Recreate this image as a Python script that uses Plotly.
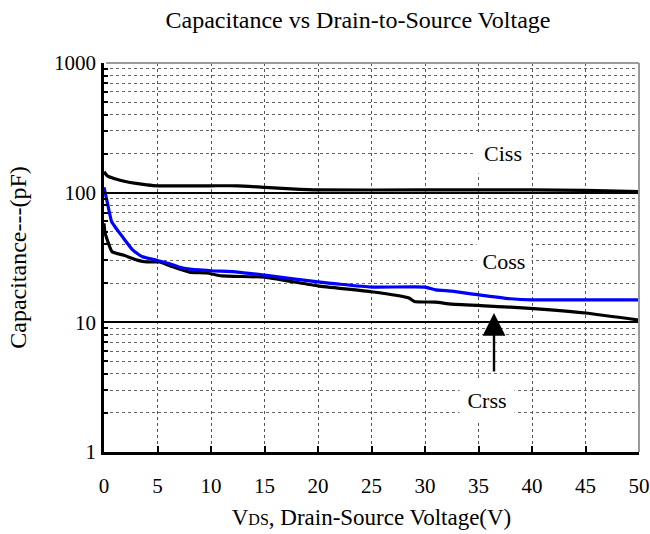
import math
import plotly.graph_objects as go

# ---- data ----
ciss_v = [0, 0.3, 1, 2, 3, 4, 5, 10, 12.5, 15, 17.5, 20, 30, 40, 45, 50]
ciss_c = [145, 135, 128, 122, 118, 115, 113, 113, 113, 110, 107, 105, 105, 105, 104, 102]

coss_v = [0, 0.3, 0.7, 1, 1.7, 2.7, 3.6, 5, 6, 7, 8, 10, 12.5, 15, 20, 22, 25, 30, 31, 32.5, 35, 38, 40, 50]
coss_c = [110, 85, 60, 55, 46, 36, 32, 30, 28.5, 26.7, 25.7, 25, 24.4, 23.1, 20.5, 19.7, 18.7, 18.7, 17.8, 17.4, 16.3, 15.2, 14.9, 14.9]

crss_v = [0, 0.1, 0.75, 1.8, 3.1, 4, 5.2, 6.2, 8, 9.6, 11, 15, 20, 25, 28.5, 29, 31, 32.5, 38, 45, 50]
crss_c = [58, 49, 35, 33, 30.2, 29.2, 29.2, 27.2, 24.4, 24, 22.8, 22.3, 19.1, 17.2, 15.4, 14.5, 14.3, 13.8, 13.1, 11.8, 10.4]

x_ticks = [0, 5, 10, 15, 20, 25, 30, 35, 40, 45, 50]
y_ticks = [1, 10, 100, 1000]
y_tick_text = ["1", "10", "100", "1000"]

labels = ["Ciss", "Coss", "Crss"]
label_v = [37.3, 37.4, 35.8]
label_c = [202, 29.7, 2.52]
arrow_v = 36.45
arrow_c = 11.8

FONT = "Liberation Serif"

fig = go.Figure()
line_style = dict(width=3.2, shape="spline", smoothing=0.4)
fig.add_trace(go.Scatter(x=ciss_v, y=ciss_c, mode="lines", line=dict(color="black", **line_style), name="Ciss"))
fig.add_trace(go.Scatter(x=crss_v, y=crss_c, mode="lines", line=dict(color="black", **line_style), name="Crss"))
fig.add_trace(go.Scatter(x=coss_v, y=coss_c, mode="lines", line=dict(color="#0000ff", **line_style), name="Coss"))

# annotations on a log axis take log10 positions
for t, v, c in zip(labels, label_v, label_c):
    fig.add_annotation(x=v, y=math.log10(c), yref="y", xref="x", text=t, showarrow=False,
                       font=dict(family=FONT, size=22, color="black"),
                       bgcolor="white", width=54, height=40, borderpad=0)

fig.add_annotation(x=arrow_v, y=math.log10(arrow_c), xref="x", yref="y", text="", showarrow=True,
                   ax=0, ay=60, arrowhead=2, arrowsize=1.9, arrowwidth=2.4, arrowcolor="black")

# gray top and right frame edges
fig.add_shape(type="line", xref="paper", yref="paper", x0=0.004, x1=1, y0=1, y1=1,
              line=dict(color="#9a9a9a", width=2), layer="above")
fig.add_shape(type="line", xref="paper", yref="paper", x0=1, x1=1, y0=0, y1=1,
              line=dict(color="#9a9a9a", width=2), layer="above")

fig.update_layout(
    width=650, height=534,
    margin=dict(l=104, r=11, t=63, b=82, autoexpand=False),
    paper_bgcolor="white", plot_bgcolor="white",
    showlegend=False,
    font=dict(family=FONT, color="black", size=22),
    title=dict(text="Capacitance vs Drain-to-Source Voltage", x=358 / 650, xanchor="center",
               y=1 - 20 / 534, yanchor="middle", font=dict(family=FONT, size=24, color="black")),
    xaxis=dict(range=[0, 50], tickvals=x_ticks, showgrid=True, gridcolor="#555555",
               griddash="dot", gridwidth=1, showline=True, linecolor="black", linewidth=2.5,
               ticks="inside", ticklen=6, tickwidth=2, tickcolor="black",
               ticklabelstandoff=13, tickfont=dict(family=FONT, size=21),
               title=dict(text="V<span style='font-size:16px'>DS</span>, Drain-Source Voltage(V)",
                          font=dict(family=FONT, size=23), standoff=12),
               zeroline=False, automargin=False),
    yaxis=dict(type="log", range=[0, 3], tickvals=y_ticks, ticktext=y_tick_text,
               showgrid=True, gridcolor="black", gridwidth=1.5,
               showline=True, linecolor="black", linewidth=2.5,
               ticks="inside", ticklen=6, tickwidth=1.5, tickcolor="black",
               ticklabelstandoff=1, tickfont=dict(family=FONT, size=21),
               minor=dict(dtick="D1", showgrid=True, gridcolor="#666666", griddash="dot",
                          gridwidth=1, ticks="inside", ticklen=4, tickcolor="black"),
               title=dict(text="Capacitance---(pF)", font=dict(family=FONT, size=24), standoff=21),
               zeroline=False, automargin=False),
)

fig.write_html("out.html", config={"displayModeBar": False},
               post_script="document.body.style.margin='0px';document.body.style.overflow='hidden';")
